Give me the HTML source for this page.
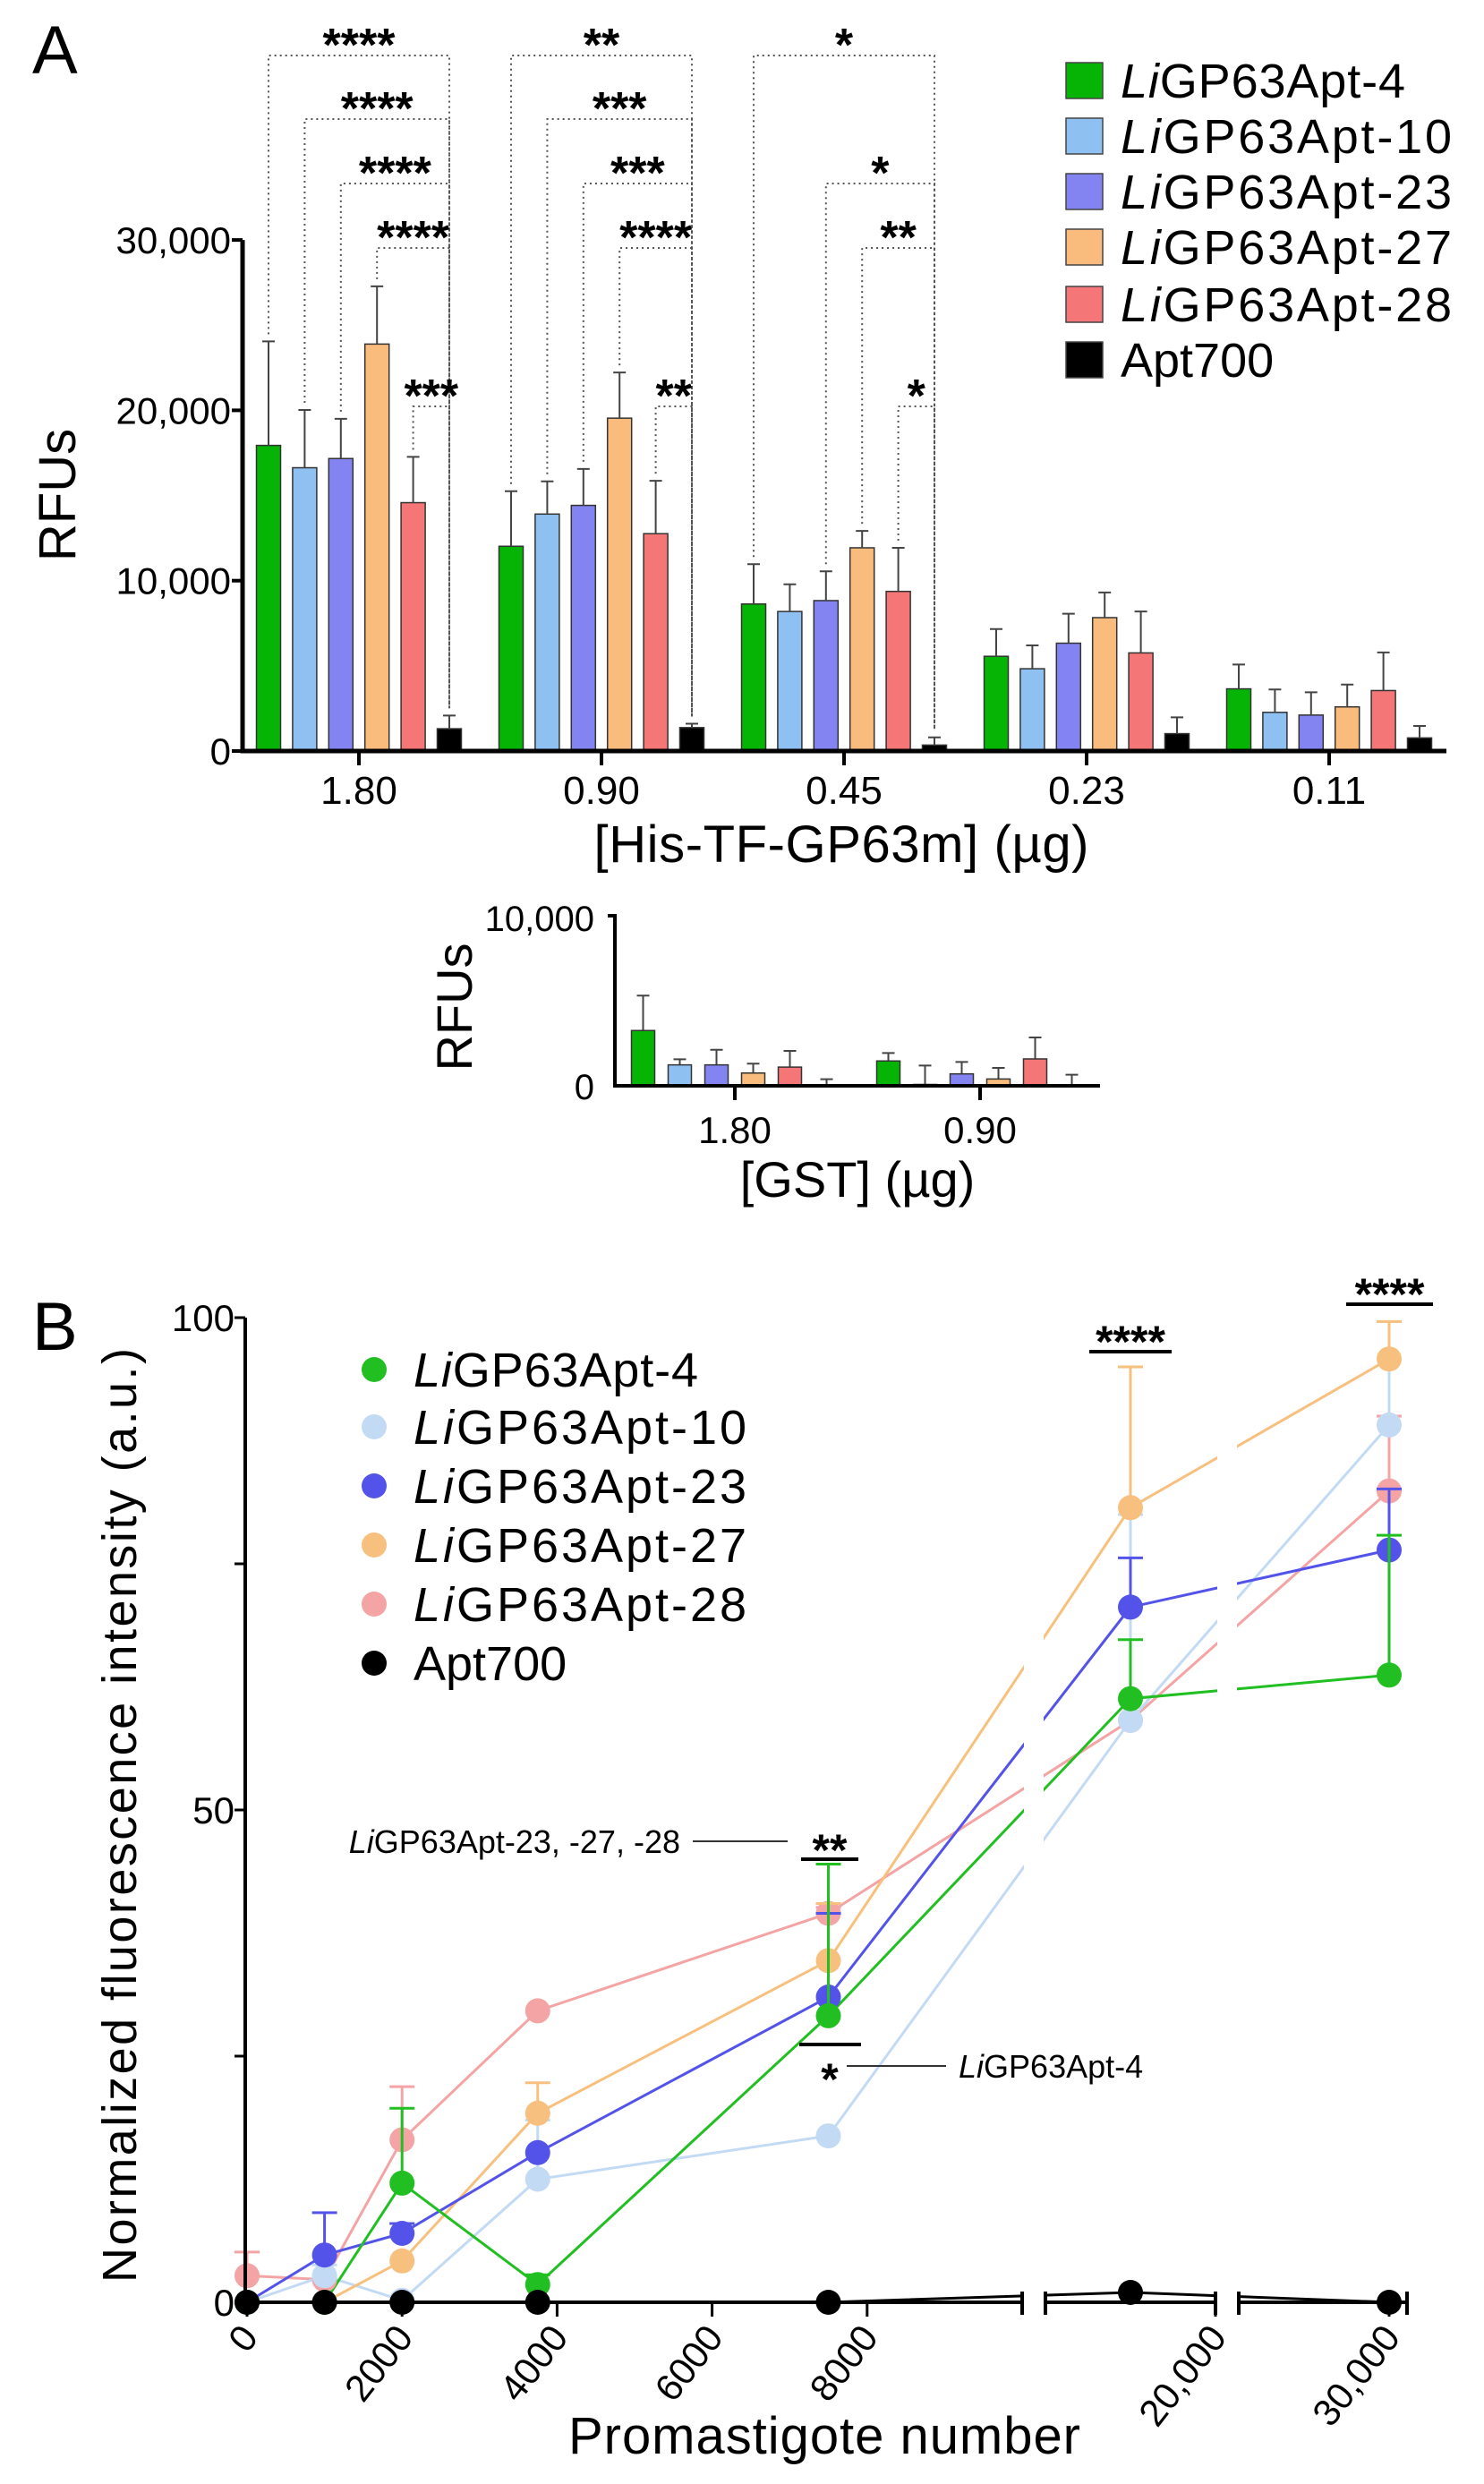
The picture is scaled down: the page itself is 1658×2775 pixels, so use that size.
<!DOCTYPE html>
<html><head><meta charset="utf-8">
<style>
html,body{margin:0;padding:0;background:#fff;overflow:hidden;}
svg{display:block;font-family:"Liberation Sans",Arial,sans-serif;}
</style></head>
<body>
<svg id="fig" width="1658" height="2775" viewBox="0 0 1658 2775" xmlns="http://www.w3.org/2000/svg">
<rect x="0" y="0" width="1658" height="2775" fill="#fff"/>
</svg>
<script>
// ---------- Panel A data ----------
const groupsA = ['1.80','0.90','0.45','0.23','0.11'];
const seriesNames = ['LiGP63Apt-4','LiGP63Apt-10','LiGP63Apt-23','LiGP63Apt-27','LiGP63Apt-28','Apt700'];
const apt4A  = [17940,12020,8630,5560,3650];
const apt10A = [16630,13910,8190,4830,2270];
const apt23A = [17170,14420,8830,6330,2110];
const apt27A = [23890,19540,11930,7830,2590];
const apt28A = [14580,12760,9370,5760,3550];
const apt700A= [1310,1375,350,1020,770];
const apt4AErr  = [24050,15250,10970,7160,5080];
const apt10AErr = [20020,15830,9790,6200,3610];
const apt23AErr = [19500,16560,10550,8060,3450];
const apt27AErr = [27280,22220,12920,9310,3900];
const apt28AErr = [17270,15860,11930,8190,5790];
const apt700AErr= [2080,1600,800,1980,1470];
const yTicksA = [0,10000,20000,30000];
const yTickLabelsA = ['0','10,000','20,000','30,000'];
const sigGroup = [0,0,0,0,0,1,1,1,1,1,2,2,2,2];
const sigFrom  = [0,1,2,3,4,0,1,2,3,4,0,2,3,4];
const sigLabel = ['****','****','****','****','***','**','***','***','****','**','*','*','**','*'];
// ---------- Inset (GST) data ----------
const groupsG = ['1.80','0.90'];
const apt4G  = [3250,1460];
const apt10G = [1230,80];
const apt23G = [1230,700];
const apt27G = [750,400];
const apt28G = [1100,1580];
const apt700G= [0,0];
const apt4GErr  = [5300,1930];
const apt10GErr = [1560,1190];
const apt23GErr = [2120,1400];
const apt27GErr = [1300,1050];
const apt28GErr = [2050,2840];
const apt700GErr= [390,650];
// ---------- Panel B data ----------
const xB = [0,1000,2000,3750,7500,15000,30000];
const apt4B  = [0,0,12.1,1.8,29.1,61.3,63.7];
const apt10B = [0,2.7,0.2,12.5,16.9,59.1,89.1];
const apt23B = [0,4.8,7.0,15.2,31.0,70.6,76.4];
const apt27B = [0,0,4.2,19.2,34.7,80.7,95.8];
const apt28B = [2.7,2.3,16.5,29.6,39.5,59.1,82.4];
const apt700B= [0,0,0,0,0,1.0,0];
const apt4BErr  = [null,null,19.7,2.8,44.5,67.3,77.9];
const apt10BErr = [null,3.8,null,18.5,null,80,99.6];
const apt23BErr = [null,9.1,8.0,null,39.5,75.6,82.6];
const apt27BErr = [null,null,null,22.3,40.5,95,99.6];
const apt28BErr = [5.1,null,21.9,null,40.1,null,90];
const xTicksB = [0,2000,4000,6000,8000,20000,30000];
const xTickLabelsB = ['0','2000','4000','6000','8000','20,000','30,000'];
const yTicksB = [0,25,50,75,100];
const yTickLabelsB = ['0','','50','','100'];

const NS='http://www.w3.org/2000/svg';
const svg=document.getElementById('fig');
function mk(tag,attrs,parent){const e=document.createElementNS(NS,tag);for(const k in attrs)e.setAttribute(k,attrs[k]);(parent||svg).appendChild(e);return e;}
function label(parts,attrs,parent){const t=mk('text',attrs,parent);parts.forEach(p=>{const s=document.createElementNS(NS,'tspan');if(p[1])s.setAttribute('font-style','italic');s.textContent=p[0];t.appendChild(s);});return t;}
function nameParts(n){return n.startsWith('Li')?[['Li',true],[n.slice(2),false]]:[[n,false]];}

const colA=['#05b405','#8fc0f2','#8383f2','#f9bc7c','#f57676','#000'];
const colB=['#22bf22','#c3daf4','#5353ea','#f8c07e','#f4a4a4','#000'];

// ================= PANEL A =================
const gA=mk('g',{});


const yA=v=>839-v*0.01903;
const gxA=i=>401+i*271;
const barOff=k=>(k-2.5)*40.4;
const valsA=[apt4A,apt10A,apt23A,apt27A,apt28A,apt700A];
const errsA=[apt4AErr,apt10AErr,apt23AErr,apt27AErr,apt28AErr,apt700AErr];

const pa=mk('text',{x:36,y:82,'font-size':76},gA);pa.textContent='A';



groupsA.forEach((g,i)=>{
  valsA.forEach((arr,k)=>{
    const cx=gxA(i)+barOff(k), y=yA(arr[i]);
    const r=mk('rect',{x:cx-13.5,y:y,width:27,height:yA(0)-y,fill:colA[k],stroke:'#333','stroke-width':1.5},gA);
    
    
    const ey=yA(errsA[k][i]);
    const e=mk('path',{d:`M${cx},${y}V${ey}M${cx-7},${ey}H${cx+7}`,stroke:'#444','stroke-width':2,fill:'none'},gA);
    
    
  });
});
// significance brackets
const levelsA=[62,133,205,277,454];
sigGroup.forEach((gi,j)=>{
  const k=sigFrom[j];
  const x1=gxA(gi)+barOff(k), x2=gxA(gi)+barOff(5), ly=levelsA[k];
  const yb1=yA(errsA[k][gi])-8, yb2=yA(errsA[5][gi])-8;
  const p=mk('path',{d:`M${x1},${yb1}V${ly}H${x2}V${yb2}`,stroke:'#555','stroke-width':2,'stroke-dasharray':'2,4',fill:'none'},gA);
  
  
  const t=mk('text',{x:(x1+x2)/2,y:ly+6,'font-size':52,'font-weight':'bold','text-anchor':'middle'},gA);
  t.textContent=sigLabel[j];
  
  
});
// axes
const axA=mk('path',{d:`M271,${yA(30000)}V${yA(0)}H1616`,stroke:'#000','stroke-width':5,fill:'none'},gA);


yTicksA.forEach((v,i)=>{
  mk('line',{x1:259,x2:271,y1:yA(v),y2:yA(v),stroke:'#000','stroke-width':4},gA);
  const t=mk('text',{x:258,y:yA(v)+15,'font-size':42,'text-anchor':'end'},gA);
  t.textContent=yTickLabelsA[i];
  
  
});
groupsA.forEach((g,i)=>{
  mk('line',{x1:gxA(i),x2:gxA(i),y1:yA(0),y2:yA(0)+16,stroke:'#000','stroke-width':4},gA);
  const t=mk('text',{x:gxA(i),y:898,'font-size':44,'text-anchor':'middle'},gA);
  t.textContent=g;
  
  
});
const xtA=mk('text',{x:940,y:963,'font-size':58,'text-anchor':'middle',textLength:553},gA);
xtA.textContent='[His-TF-GP63m] (µg)';


const ytA=mk('text',{x:0,y:0,'font-size':58,'text-anchor':'middle',transform:'translate(84,553) rotate(-90)'},gA);
ytA.textContent='RFUs';


// legend A
const legA=mk('g',{},gA);


const legRowsA=[90,152,214,276,340,402];
seriesNames.forEach((n,k)=>{
  const s=mk('rect',{x:1191,y:legRowsA[k]-20,width:41,height:40,fill:colA[k],stroke:'#444','stroke-width':1.5},legA);
  
  
  const t=label(nameParts(n),{x:1252,y:legRowsA[k]+19,'font-size':54},legA);
  if(n.startsWith('Li')) t.setAttribute('textLength', n.length===11?318:370);
  
  
});

// ================= INSET (GST) =================
const gI=mk('g',{});


const yI=v=>1213-v*0.019;
const gxI=i=>821+i*274;
const valsG=[apt4G,apt10G,apt23G,apt27G,apt28G,apt700G];
const errsG=[apt4GErr,apt10GErr,apt23GErr,apt27GErr,apt28GErr,apt700GErr];
groupsG.forEach((g,i)=>{
  valsG.forEach((arr,k)=>{
    const cx=gxI(i)+(k-2.5)*41, y=yI(arr[i]);
    const ey=yI(errsG[k][i]);
    const e=mk('path',{d:`M${cx},${y}V${ey}M${cx-7},${ey}H${cx+7}`,stroke:'#444','stroke-width':2,fill:'none'},gI);
    
    
    const r=mk('rect',{x:cx-13,y:y,width:26,height:Math.max(yI(0)-y,0),fill:colA[k],stroke:'#333','stroke-width':1.5},gI);
    
    
  });
  mk('line',{x1:gxI(i),x2:gxI(i),y1:yI(0),y2:yI(0)+16,stroke:'#000','stroke-width':4},gI);
  const t=mk('text',{x:gxI(i),y:1277,'font-size':42,'text-anchor':'middle'},gI);
  t.textContent=g;
  
  
});
const axI=mk('path',{d:`M679,${yI(10000)}H687V${yI(0)}H1229`,stroke:'#000','stroke-width':4,fill:'none'},gI);


const t10=mk('text',{x:664,y:1040,'font-size':40,'text-anchor':'end'},gI);t10.textContent='10,000';


const t0=mk('text',{x:664,y:1228,'font-size':40,'text-anchor':'end'},gI);t0.textContent='0';


const ytI=mk('text',{x:0,y:0,'font-size':56,'text-anchor':'middle',transform:'translate(527,1125) rotate(-90)'},gI);
ytI.textContent='RFUs';


const xtI=mk('text',{x:958,y:1337,'font-size':56,'text-anchor':'middle'},gI);
xtI.textContent='[GST] (µg)';



// ================= PANEL B =================
const gB=mk('g',{});


const yB=v=>2572-v*11.0;
function xBs(v){
  if(v<=10000) return 276+v*0.0866;
  if(v<=20000) return 1168+(v-10000)*0.019;
  return 1384+(v-20000)*0.0168;
}
const pb=mk('text',{x:36,y:1508,'font-size':76},gB);pb.textContent='B';



const valsB=[apt4B,apt10B,apt23B,apt27B,apt28B,apt700B];
const errsB=[apt4BErr,apt10BErr,apt23BErr,apt27BErr,apt28BErr,null];
const order=[4,1,3,2,0,5];
order.forEach(k=>{
  const arr=valsB[k];
  const d=arr.map((v,i)=>(i?'L':'M')+xBs(xB[i])+','+yB(v)).join('');
  const l=mk('path',{d:d,stroke:colB[k],'stroke-width':3,fill:'none'},gB);
  
  
});
// break gaps
[[1144,1166],[1360,1382]].forEach(g=>{
  const r=mk('rect',{x:g[0],y:1420,width:g[1]-g[0],height:1160,fill:'#fff'},gB);
  
  
});
order.forEach(k=>{
  const arr=valsB[k];
  arr.forEach((v,i)=>{
    const cx=xBs(xB[i]);
    if(errsB[k] && errsB[k][i]!=null){
      const ey=yB(errsB[k][i]);
      const e=mk('path',{d:`M${cx},${yB(v)}V${ey}M${cx-14},${ey}H${cx+14}`,stroke:colB[k],'stroke-width':3,fill:'none'},gB);
      
      
    }
    const c=mk('circle',{cx:cx,cy:yB(v),r:14,fill:colB[k]},gB);
    
    
  });
});
// axes B
const axBY=mk('path',{d:`M274,${yB(100)}V${yB(0)}`,stroke:'#000','stroke-width':4,fill:'none'},gB);


[[274,1142],[1168,1358],[1384,1572]].forEach((s,si)=>{
  const a=mk('path',{d:`M${s[0]},${yB(0)}H${s[1]}`+(si>0?`M${s[0]},${yB(0)+14}V${yB(0)-12}`:'')+`M${s[1]},${yB(0)+14}V${yB(0)-12}`,stroke:'#000','stroke-width':4,fill:'none'},gB);
  
  
});
yTicksB.forEach((v,i)=>{
  mk('line',{x1:262,x2:274,y1:yB(v),y2:yB(v),stroke:'#000','stroke-width':3},gB);
  if(yTickLabelsB[i]){
    const t=mk('text',{x:262,y:yB(v)+15,'font-size':42,'text-anchor':'end'},gB);
    t.textContent=yTickLabelsB[i];
    
    
  }
});
xTicksB.forEach((v,i)=>{
  const x=xBs(v);
  mk('line',{x1:x,x2:x,y1:yB(0),y2:yB(0)+16,stroke:'#000','stroke-width':3},gB);
  const t=mk('text',{x:0,y:0,'font-size':42,'text-anchor':'end',transform:`translate(${x+14},${yB(0)+40}) rotate(-52)`},gB);
  t.textContent=xTickLabelsB[i];
  
  
});
const xtB=mk('text',{x:921,y:2741,'font-size':58,'text-anchor':'middle',textLength:572},gB);
xtB.textContent='Promastigote number';


const ytB=mk('text',{x:0,y:0,'font-size':54,'text-anchor':'middle',textLength:1044,transform:'translate(152,2028) rotate(-90)'},gB);
ytB.textContent='Normalized fluorescence intensity (a.u.)';


// significance B
function sigB(x1,x2,ly,txt,ty){
  const l=mk('line',{x1:x1,x2:x2,y1:ly,y2:ly,stroke:'#000','stroke-width':4},gB);
  
  
  const t=mk('text',{x:(x1+x2)/2,y:ty,'font-size':50,'font-weight':'bold','text-anchor':'middle'},gB);
  t.textContent=txt;
  
  
}
sigB(1217,1309,1510,'****',1516);
sigB(1504,1601,1457,'****',1463);
sigB(895,959,2077,'**',2084);
sigB(893,962,2284,'',0);
const st=mk('text',{x:927,y:2340,'font-size':50,'font-weight':'bold','text-anchor':'middle'},gB);st.textContent='*';


const a1=label([['Li',true],['GP63Apt-23, -27, -28',false]],{x:760,y:2070,'font-size':36,'text-anchor':'end'},gB);


const al1=mk('line',{x1:774,x2:880,y1:2057,y2:2057,stroke:'#333','stroke-width':2},gB);


const a2=label([['Li',true],['GP63Apt-4',false]],{x:1071,y:2321,'font-size':36},gB);


const al2=mk('line',{x1:946,x2:1057,y1:2308,y2:2308,stroke:'#333','stroke-width':2},gB);


// legend B
const legB=mk('g',{},gB);


const legRowsB=[1530,1594,1660,1726,1792,1858];
seriesNames.forEach((n,k)=>{
  const c=mk('circle',{cx:418,cy:legRowsB[k],r:14,fill:colB[k]},legB);
  
  
  const t=label(nameParts(n),{x:462,y:legRowsB[k]+19,'font-size':54},legB);
  if(n.startsWith('Li')) t.setAttribute('textLength', n.length===11?318:372);
  
  
});
</script>
</body></html>
